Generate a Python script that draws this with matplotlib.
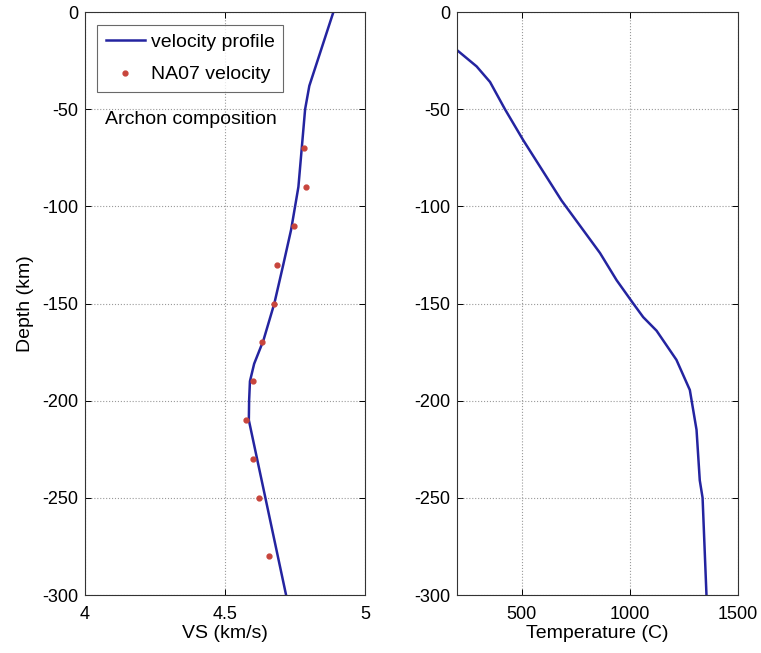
import matplotlib
matplotlib.use("Agg")
import matplotlib.pyplot as plt

plt.rcParams['font.family'] = ['Liberation Sans', 'DejaVu Sans']
plt.rcParams['axes.unicode_minus'] = False

# Shear-velocity profile (depth in km, VS in km/s)
vel_depth = [0, -38, -50, -70, -90, -112, -130, -150, -169, -181, -190, -200, -210, -300]
vel_vs = [4.887, 4.801, 4.786, 4.774, 4.762, 4.736, 4.708, 4.676, 4.637, 4.604,
          4.589, 4.586, 4.585, 4.718]

# NA07 reference velocities
na07_depth = [-70, -90, -110, -130, -150, -170, -190, -210, -230, -250, -280]
na07_vs = [4.782, 4.789, 4.746, 4.685, 4.675, 4.631, 4.601, 4.575, 4.599, 4.621, 4.658]

# Geotherm (depth in km, temperature in C)
temp_depth = [-19.6, -28, -36, -50, -66, -97, -124, -138, -150, -157, -164, -179,
              -194.5, -215, -241, -250, -300]
temp_c = [200, 291, 353, 422, 507, 684, 862, 939, 1016, 1062, 1124, 1216,
          1278, 1309, 1324, 1337, 1355]

depth_ticks = [0, -50, -100, -150, -200, -250, -300]
vs_ticks = [4, 4.5, 5]
vs_labels = ['4', '4.5', '5']
temp_ticks = [500, 1000, 1500]

line_color = '#2424a0'
dot_color = '#c8453c'

fig = plt.figure(figsize=(7.61, 6.53), dpi=100)
ax1 = fig.add_axes([0.1117, 0.0888, 0.368, 0.8928])
ax2 = fig.add_axes([0.6005, 0.0888, 0.369, 0.8928])


def style(ax):
    ax.grid(True, linestyle=':', color='#9a9a9a', linewidth=0.8)
    ax.tick_params(direction='in', top=True, right=True, length=4, width=0.7,
                   labelsize=13)
    ax.tick_params(axis='x', pad=8)
    ax.tick_params(axis='y', pad=5)
    for s in ax.spines.values():
        s.set_linewidth(0.8)
        s.set_color('#333333')
    ax.set_yticks(depth_ticks)
    ax.set_ylim(-300, 0)


ax1.plot(vel_vs, vel_depth, color=line_color, linewidth=1.8, label='velocity profile')
ax1.plot(na07_vs, na07_depth, linestyle='none', marker='o', markersize=3.5,
         color=dot_color, label='NA07 velocity')
ax1.set_xlim(4, 5)
ax1.set_xticks(vs_ticks)
ax1.set_xticklabels(vs_labels)
style(ax1)
ax1.set_xlabel('VS (km/s)', fontsize=14, labelpad=1)
ax1.set_ylabel('Depth (km)', fontsize=14, labelpad=6)
leg = ax1.legend(loc='upper left', bbox_to_anchor=(0.043, 0.978), fontsize=14,
                 frameon=True, fancybox=False, edgecolor='#444444',
                 handlelength=2.0, handletextpad=0.3, borderpad=0.45,
                 labelspacing=0.75, borderaxespad=0)
leg.get_frame().set_linewidth(0.8)
ax1.text(4.07, -55.5, 'Archon composition', fontsize=14, va='center', ha='left')

ax2.plot(temp_c, temp_depth, color=line_color, linewidth=1.8)
ax2.set_xlim(200, 1500)
ax2.set_xticks(temp_ticks)
style(ax2)
ax2.set_xlabel('Temperature (C)', fontsize=14, labelpad=1)

fig.savefig('out.png', dpi=100)
